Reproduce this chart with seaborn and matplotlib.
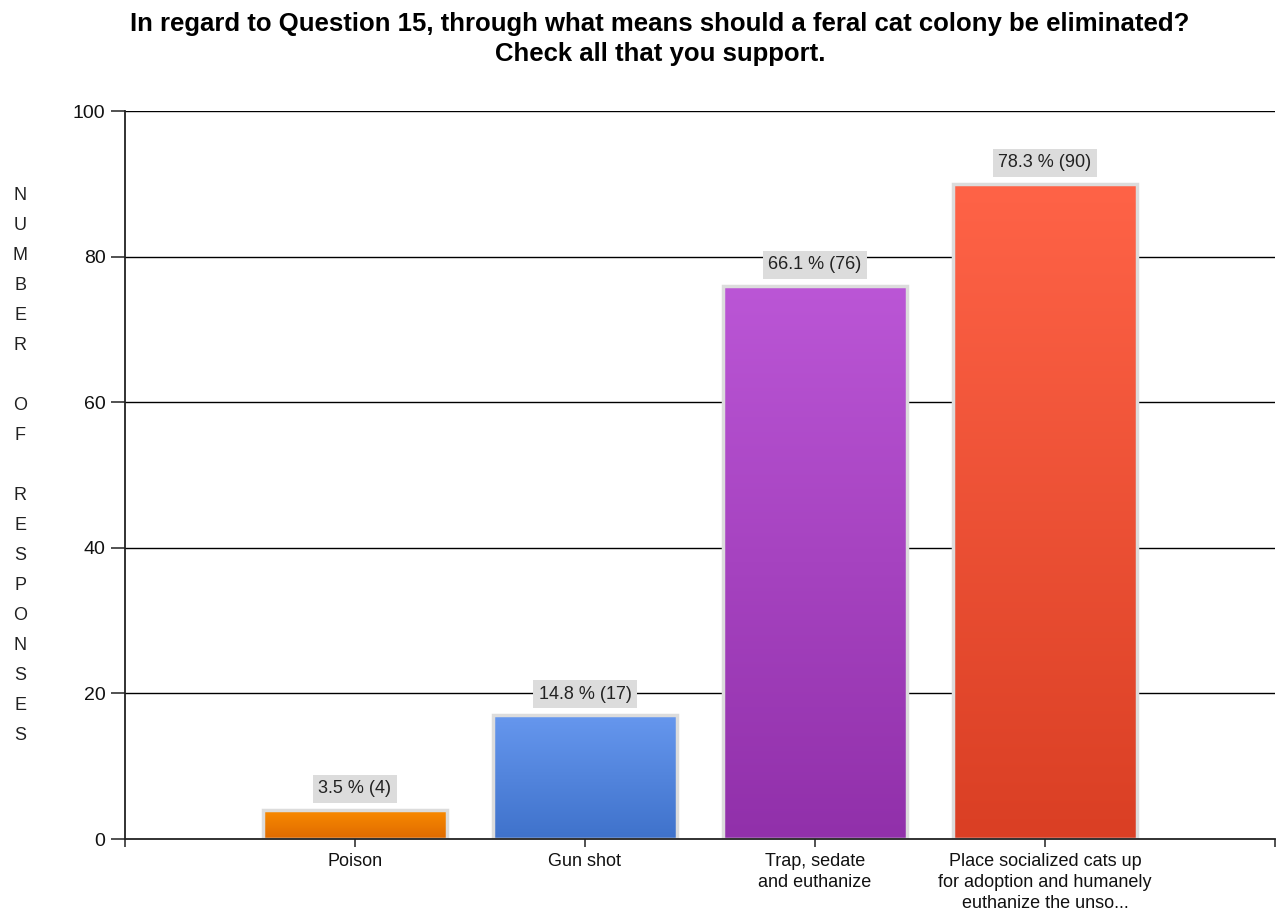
import numpy as np
import pandas as pd
import matplotlib
matplotlib.use("Agg")
import matplotlib.pyplot as plt
import seaborn as sns
from matplotlib.colors import LinearSegmentedColormap

categories = ["Poison", "Gun shot", "Trap, sedate\nand euthanize",
              "Place socialized cats up\nfor adoption and humanely\neuthanize the unso..."]
counts = [4, 17, 76, 90]
percents = [3.5, 14.8, 66.1, 78.3]
top_colors = ["#fa8c00", "#6697ee", "#bb56d6", "#ff6347"]
bottom_colors = ["#df6a00", "#3f72cb", "#9130aa", "#da3f24"]
y_ticks = [0, 20, 40, 60, 80, 100]

title = ("In regard to Question 15, through what means should a feral cat colony be eliminated?\n"
         "Check all that you support.")
y_label = "NUMBER OF RESPONSES"

sns.set_theme(style="white")
plt.rcParams["font.family"] = ["Liberation Sans", "DejaVu Sans"]

df = pd.DataFrame({"category": categories, "count": counts})

fig = plt.figure(figsize=(12.84, 9.16), dpi=100)
ax = fig.add_axes([125 / 1284, 1 - 839 / 916, 1150 / 1284, 728 / 916])

sns.barplot(data=df, x="category", y="count", ax=ax, width=0.8,
            color="#cccccc", saturation=1, zorder=3)

# vertical gradient fill for every bar, clipped to the bar shape
for patch, c_top, c_bot in zip(ax.patches, top_colors, bottom_colors):
    x0, y0 = patch.get_x(), patch.get_y()
    w, h = patch.get_width(), patch.get_height()
    cmap = LinearSegmentedColormap.from_list("g", [c_bot, c_top])
    grad = np.linspace(0, 1, 256).reshape(-1, 1)
    im = ax.imshow(grad, cmap=cmap, origin="lower", aspect="auto",
                   extent=[x0, x0 + w, y0, y0 + h], zorder=3.5)
    im.set_clip_path(patch)
    patch.set_facecolor("none")
    patch.set_edgecolor("#dcdcdc")
    patch.set_linewidth(2.5)
    patch.set_zorder(4)

ax.set_xlim(-1, len(categories))
ax.set_ylim(0, 100)

# value labels with grey boxes
for i, (cnt, pct) in enumerate(zip(counts, percents)):
    ax.annotate(f"{pct} % ({cnt})", xy=(i, cnt), xytext=(0, 9),
                textcoords="offset points", ha="center", va="bottom",
                fontsize=13, color="#222222", zorder=6,
                bbox=dict(boxstyle="square,pad=0.3", fc="#dcdcdc", ec="none"))

# grid and axes
ax.set_yticks(y_ticks)
ax.set_yticklabels([str(t) for t in y_ticks], fontsize=14, color="#111111")
for t in y_ticks[1:]:
    ax.axhline(t, color="black", linewidth=1.0, zorder=1)

ax.set_xticks([-1, 0, 1, 2, 3, len(categories)])
ax.set_xticklabels([""] + categories + [""], fontsize=13, color="#111111",
                   linespacing=1.3)
ax.tick_params(axis="x", direction="out", length=6, width=1.2, color="#333333",
               bottom=True, pad=4)
ax.tick_params(axis="y", direction="out", length=10, width=1.2, color="#333333",
               left=True, pad=4)
ax.set_xlabel("")
ax.set_ylabel("")

for side in ["top", "right"]:
    ax.spines[side].set_visible(False)
for side in ["left", "bottom"]:
    ax.spines[side].set_color("#222222")
    ax.spines[side].set_linewidth(1.3)
    ax.spines[side].set_zorder(5)

# vertical stacked y-axis label
fig.text(20 / 1284, 1 - 465 / 916, "\n".join(list(y_label)), ha="center", va="center",
         fontsize=13, color="#222222", linespacing=2.0)

fig.text(660 / 1284, 1 - 39 / 916, title, ha="center", va="center",
         fontsize=18.5, fontweight="bold", color="black", linespacing=1.3)

fig.savefig("out.png", dpi=100)
